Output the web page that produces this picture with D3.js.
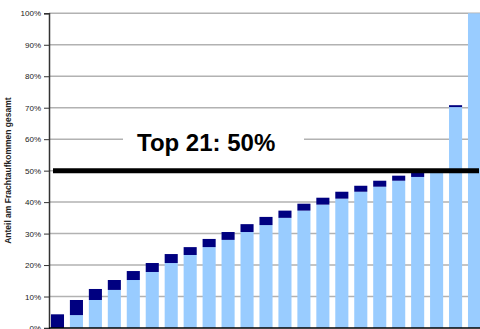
<!DOCTYPE html>
<html><head><meta charset="utf-8">
<script src="https://cdn.jsdelivr.net/npm/d3@7"></script>
<style>html,body{margin:0;padding:0;background:#fff;overflow:hidden}svg{display:block}</style>
</head><body>
<svg id="c" width="480" height="329"></svg>
<script>
const categories = d3.range(1, 24).map(String);
const previousShare = [0, 4.1, 8.9, 12.1, 15.25, 17.8, 20.65, 23.2, 25.7, 28.0, 30.5, 32.7, 35.0, 37.3, 39.2, 41.1, 43.3, 44.9, 46.8, 48.0, 49.6, 70.2, 100];
const cumulativeShare = [4.35, 8.9, 12.4, 15.25, 18.1, 20.65, 23.5, 25.7, 28.3, 30.5, 33.0, 35.3, 37.3, 39.5, 41.4, 43.3, 45.2, 46.8, 48.4, 49.6, 50.3, 70.8, 100];
const yTicks = [0, 10, 20, 30, 40, 50, 60, 70, 80, 90, 100];
const yTitle = "Anteil am Frachtaufkommen gesamt";
const annotation = "Top 21: 50%";
const thresholdValue = 50;

const svg = d3.select("#c");
const x = d3.scaleBand().domain(categories).range([48, 484]).paddingInner(0.31).paddingOuter(0.155);
const y = d3.scaleLinear().domain([0, 100]).range([328, 13.3]);

// gridlines
svg.append("g").selectAll("line").data(yTicks.filter(t => t > 0)).join("line")
  .attr("x1", 49).attr("x2", 484)
  .attr("y1", d => y(d)).attr("y2", d => y(d))
  .attr("stroke", "#b2b2b2").attr("stroke-width", 1.5);

// bars: light (previous cumulative)
svg.append("g").selectAll("rect").data(categories).join("rect")
  .attr("x", d => x(d)).attr("width", x.bandwidth())
  .attr("y", (d, i) => y(previousShare[i]))
  .attr("height", (d, i) => y(0) - y(previousShare[i]))
  .attr("fill", "#99ccff");
// bars: dark (increment)
svg.append("g").selectAll("rect").data(categories).join("rect")
  .attr("x", d => x(d)).attr("width", x.bandwidth())
  .attr("y", (d, i) => y(Math.max(cumulativeShare[i], previousShare[i])))
  .attr("height", (d, i) => Math.max(0, y(previousShare[i]) - y(cumulativeShare[i])))
  .attr("fill", "#000080");

// y axis
const yAxis = d3.axisLeft(y).tickValues(yTicks).tickFormat(d => d + "%").tickSize(5).tickPadding(3);
const ga = svg.append("g").attr("transform", "translate(49,0)").call(yAxis);
ga.select(".domain").attr("stroke", "#333").attr("stroke-width", 1.5);
ga.selectAll(".tick line").attr("stroke", "#333");
ga.selectAll("text").attr("font-family", "Liberation Sans, Arial, sans-serif").attr("font-size", 8).attr("fill", "#222");

// x axis line
svg.append("line").attr("x1", 49).attr("x2", 484).attr("y1", y(0)).attr("y2", y(0))
  .attr("stroke", "#000").attr("stroke-width", 1.5);

// y title
svg.append("text").attr("transform", "translate(11," + ((13.3 + 328) / 2) + ") rotate(-90)")
  .attr("text-anchor", "middle").attr("font-family", "Liberation Sans, Arial, sans-serif")
  .attr("font-weight", "bold").attr("font-size", 8.5).attr("fill", "#222").text(yTitle);

// annotation box & text
svg.append("rect").attr("x", 123).attr("y", 128).attr("width", 181).attr("height", 28).attr("fill", "#fff");
svg.append("text").attr("x", 137).attr("y", 151).attr("font-family", "Liberation Sans, Arial, sans-serif")
  .attr("font-weight", "bold").attr("font-size", 24).attr("fill", "#000").text(annotation);

// threshold line
svg.append("line").attr("x1", 53).attr("x2", 479).attr("y1", y(thresholdValue)).attr("y2", y(thresholdValue))
  .attr("stroke", "#000").attr("stroke-width", 5);
</script>
</body></html>
